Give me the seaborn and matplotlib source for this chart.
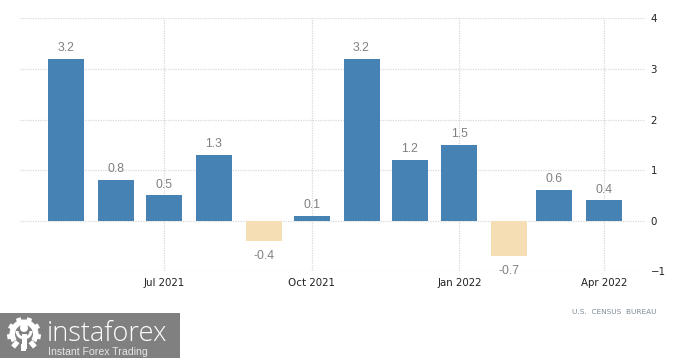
import matplotlib
matplotlib.use("Agg")
import matplotlib.pyplot as plt
import matplotlib.dates as mdates
from matplotlib.patches import Rectangle, Circle, Wedge
from matplotlib.transforms import Affine2D
import numpy as np
import pandas as pd
import seaborn as sns

months = ["2021-05-01", "2021-06-01", "2021-07-01", "2021-08-01", "2021-09-01", "2021-10-01",
          "2021-11-01", "2021-12-01", "2022-01-01", "2022-02-01", "2022-03-01", "2022-04-01"]
values = [3.2, 0.8, 0.5, 1.3, -0.4, 0.1, 3.2, 1.2, 1.5, -0.7, 0.6, 0.4]
x_ticks = ["2021-07-01", "2021-10-01", "2022-01-01", "2022-04-01"]
x_tick_labels = ["Jul 2021", "Oct 2021", "Jan 2022", "Apr 2022"]
y_ticks = [-1, 0, 1, 2, 3, 4]
source = "U.S.  CENSUS  BUREAU"

W, H = 700, 358
sns.set_theme(style="white")
plt.rcParams["font.family"] = ["DejaVu Sans"]

df = pd.DataFrame({"month": mdates.date2num(pd.to_datetime(months)), "value": values})
df["sign"] = ["up" if v >= 0 else "down" for v in values]

fig = plt.figure(figsize=(W / 100, H / 100), dpi=100, facecolor="white")
L, R, T, B = 20, 645, 18.3, 271.3
ax = fig.add_axes([L / W, 1 - B / H, (R - L) / W, (B - T) / H])

sns.barplot(data=df, x="month", y="value", hue="sign", dodge=False, native_scale=True,
            palette={"up": "#4682B4", "down": "#F5DEB3"}, legend=False, ax=ax, zorder=3,
            saturation=1, width=0.8, linewidth=0, edgecolor="none")

d0 = mdates.date2num(pd.Timestamp("2021-07-01"))
ppd = (604 - 164) / 274
ax.set_xlim(d0 + (L - 164) / ppd, d0 + (R - 164) / ppd)
ax.set_ylim(-1, 4)

ax.set_xticks(mdates.date2num(pd.to_datetime(x_ticks)))
ax.set_xticklabels(x_tick_labels)
ax.set_yticks(y_ticks)
ax.yaxis.tick_right()
ax.set_xlabel("")
ax.set_ylabel("")
for s in ax.spines.values():
    s.set_visible(False)
ax.grid(True, color="#d9d9d9", linewidth=0.9, linestyle=(0, (1, 1)), zorder=0)
ax.set_axisbelow(True)
ax.tick_params(axis="x", length=3, width=0.8, color="#d9d9d9", pad=2, labelsize=7.4, labelcolor="#222222")
ax.tick_params(axis="y", length=0, pad=4, labelsize=7.4, labelcolor="#222222")

for xv, v in zip(df["month"], values):
    off, va = (3.5, "bottom") if v >= 0 else (-6.5, "top")
    ax.annotate(f"{v:g}", (xv, v), xytext=(0, off), textcoords="offset points", ha="center", va=va,
                fontsize=8.8, color="#808080", family="Liberation Sans", zorder=5)

fig.text(657 / W, 1 - 312 / H, source, ha="right", va="center", fontsize=5.3, color="#7f8a96")

# logo
GREY = "#808080"
fig.add_artist(Rectangle((0, 0), 180 / W, 45 / H, transform=fig.transFigure, color=GREY, lw=0))
lx, ly = 24, 334
scale = fig.dpi_scale_trans
def px(x, y):
    return (x / 100, (H - y) / 100)
cx, cy = px(lx, ly)
for ang in np.arange(0, 360, 40) + 20:
    tr = Affine2D().rotate_deg_around(cx, cy, ang) + scale
    fig.add_artist(Rectangle((cx - .025, cy + .10), .05, .07, transform=tr, color="white", lw=0))
fig.add_artist(Wedge((cx, cy), .145, -35, 215, width=.055, transform=scale, color="white", lw=0))
fig.add_artist(Circle(px(lx, ly - 6), .04, transform=scale, color="white", lw=0))
fig.add_artist(Rectangle(px(lx - 2.5, ly + 15), .05, .15, transform=scale, color="white", lw=0))
fig.add_artist(Wedge(px(lx, ly - 3), .085, 180, 360, width=.03, transform=scale, color="white", lw=0))
fig.text(47 / W, 1 - 341 / H, "instaforex", ha="left", va="baseline", fontsize=19.5, color="white",
         family="Open Sans", fontweight="light")
fig.text(48 / W, 1 - 355 / H, "Instant Forex Trading", ha="left", va="baseline", fontsize=7.6, color="#e6e6e6",
         family="Liberation Sans")

fig.savefig("out.png", dpi=100)
